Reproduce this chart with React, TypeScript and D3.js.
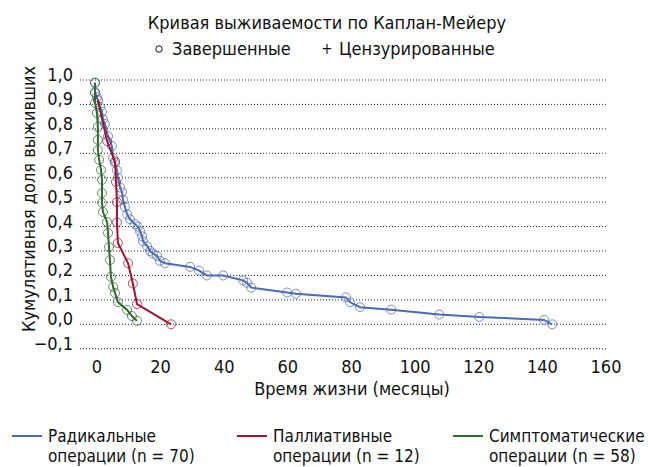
import React from "react";
import * as d3 from "d3";

// Kaplan-Meier points: time in months, cumulative survival
const radTime = [0, 0, 0.6, 1.6, 2.2, 2.5, 3.1, 4.1, 5.3, 5.7, 6.3, 6.9, 7.2, 7.9, 8.5, 8.8, 9.4, 10.1, 11.0, 12.6, 13.5, 14.2, 14.8, 15.1, 16.4, 17.3, 18.2, 19.5, 20.4, 22.0, 29.9, 32.7, 35.2, 40.3, 46.5, 47.8, 49.1, 60.4, 63.2, 78.9, 80.2, 83.3, 93.1, 108.2, 120.8, 141.2, 143.7];
const radSurv = [0.99, 0.95, 0.93, 0.89, 0.87, 0.84, 0.82, 0.77, 0.73, 0.68, 0.66, 0.63, 0.60, 0.56, 0.54, 0.51, 0.48, 0.45, 0.43, 0.41, 0.40, 0.38, 0.36, 0.34, 0.32, 0.30, 0.29, 0.28, 0.26, 0.25, 0.235, 0.22, 0.20, 0.20, 0.18, 0.17, 0.15, 0.13, 0.125, 0.11, 0.09, 0.07, 0.06, 0.04, 0.03, 0.018, 0.0];

const palTime = [0.9, 3.8, 6.3, 6.6, 6.9, 6.9, 7.2, 10.4, 11.9, 13.2, 23.9];
const palSurv = [0.917, 0.75, 0.667, 0.583, 0.5, 0.417, 0.333, 0.25, 0.167, 0.083, 0.0];

const symTime = [0, 0, 0, 0.6, 0.9, 0.9, 0.9, 1.3, 1.9, 2.2, 2.2, 2.2, 2.5, 3.8, 4.1, 4.4, 4.7, 5.0, 5.7, 6.3, 7.2, 10.1, 11.6, 13.2];
const symSurv = [0.988, 0.947, 0.906, 0.865, 0.808, 0.755, 0.713, 0.673, 0.632, 0.591, 0.537, 0.497, 0.46, 0.419, 0.374, 0.316, 0.263, 0.194, 0.153, 0.128, 0.091, 0.059, 0.034, 0.014];

const yTicks = [1.0, 0.9, 0.8, 0.7, 0.6, 0.5, 0.4, 0.3, 0.2, 0.1, 0.0, -0.1];
const xTicks = [0, 20, 40, 60, 80, 100, 120, 140, 160];

const seriesNames = [
  ["Радикальные", "операции (n = 70)"],
  ["Паллиативные", "операции (n = 12)"],
  ["Симптоматические", "операции (n = 58)"],
];
const colors = ["#4a6cb6", "#a3122e", "#2f6a31"];

const font = "'Liberation Sans Narrow', 'DejaVu Sans Condensed', 'Roboto Condensed', Roboto, sans-serif";

export default function App() {
  const x = d3.scaleLinear().domain([0, 160]).range([95, 604]);
  const y = d3.scaleLinear().domain([0, 1]).range([324.3, 80]);
  const fmt = (v: number) => d3.format(".1f")(v).replace(".", ",");

  const series = [
    { t: radTime, s: radSurv },
    { t: palTime, s: palSurv },
    { t: symTime, s: symSurv },
  ];

  const line = d3
    .line<[number, number]>()
    .x((d) => x(d[0]))
    .y((d) => y(d[1]));

  const legendX = [12, 237, 453];

  return (
    <svg width={648} height={467} style={{ position: "absolute", left: 0, top: 0, fontFamily: font, fontStretch: "condensed" }}>
      <rect width={648} height={467} fill="#fff" />
      <text x={327} y={29} textAnchor="middle" fontSize={18} fill="#111">Кривая выживаемости по Каплан-Мейеру</text>
      <circle cx={159} cy={49} r={3.2} fill="none" stroke="#111" strokeWidth={1} />
      <text x={172} y={55} fontSize={18} fill="#111">Завершенные</text>
      <text x={327} y={54} fontSize={15} fill="#111" textAnchor="middle">+</text>
      <text x={339} y={55} fontSize={18} fill="#111">Цензурированные</text>

      {yTicks.map((v) => (
        <g key={v}>
          <line x1={80} x2={608} y1={y(v)} y2={y(v)} stroke="#222" strokeWidth={1} strokeDasharray="1,2" />
          <text x={73} y={y(v) + 1} textAnchor="end" fontSize={18} fill="#111">{fmt(v)}</text>
        </g>
      ))}
      {xTicks.map((v) => (
        <text key={v} x={x(v) + 2} y={373} textAnchor="middle" fontSize={18} fill="#111">{v}</text>
      ))}
      <text x={352} y={395} textAnchor="middle" fontSize={18} fill="#111">Время жизни (месяцы)</text>
      <text transform="translate(35,199) rotate(-90)" textAnchor="middle" fontSize={18} fill="#111">Кумулятивная доля выживших</text>

      {series.map((sr, i) => {
        const pts = sr.t.map((t, k) => [t, sr.s[k]] as [number, number]);
        return (
          <g key={i}>
            <path d={line(pts) || ""} fill="none" stroke={colors[i]} strokeWidth={2} />
            {pts.map((p, k) => (
              <circle key={k} cx={x(p[0])} cy={y(p[1])} r={4.5} fill="none" stroke={colors[i]} strokeOpacity={0.75} strokeWidth={1} />
            ))}
          </g>
        );
      })}

      {seriesNames.map((nm, i) => (
        <g key={i}>
          <line x1={legendX[i]} x2={legendX[i] + 30} y1={436} y2={436} stroke={colors[i]} strokeWidth={2} />
          <text x={legendX[i] + 36} y={442} fontSize={17} fill="#111">{nm[0]}</text>
          <text x={legendX[i] + 36} y={462} fontSize={17} fill="#111">{nm[1]}</text>
        </g>
      ))}
    </svg>
  );
}
